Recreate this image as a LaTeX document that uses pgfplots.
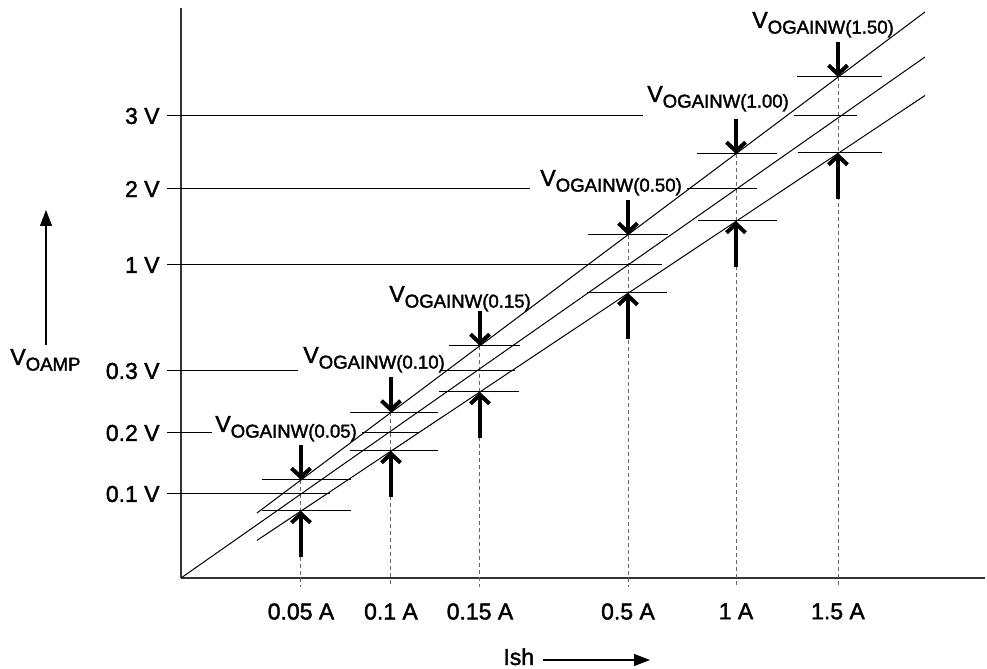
\documentclass[border=0pt]{standalone}
\usepackage{fontspec}
\setmainfont{Liberation Sans}[FakeBold=1.8]
\usepackage{pgfplots}
\pgfplotsset{compat=1.18}
\usetikzlibrary{arrows.meta}
\newcommand{\lbl}[1]{V\raisebox{-2.8pt}{\fontsize{9.3}{10}\selectfont #1}}
\tikzset{
  ln/.style={black, line width=0.5pt},
  dl/.style={black!60, line width=0.5pt, dash pattern=on 2pt off 1.5pt},
  ar/.style={black, line width=2pt, -{Straight Barb[length=4.5pt,width=9.5pt]}},
  lab/.style={anchor=base west, inner sep=0pt, font=\fontsize{11.5}{13}\selectfont},
}
\begin{document}
\begin{tikzpicture}
\begin{axis}[
  x=0.5pt, y=0.5pt, xmin=0, xmax=804, ymin=0, ymax=570,
  axis lines=left, axis line style={-, black!80, line width=0.7pt},
  clip=false, major tick length=0pt,
  xtick={120,210,299,447,555,657},
  xticklabels={0.05 A, 0.1 A, 0.15 A, 0.5 A, 1 A, 1.5 A},
  ytick={84,145,207,313,389,462},
  yticklabels={0.1 V, 0.2 V, 0.3 V, 1 V, 2 V, 3 V},
  tick label style={font=\fontsize{11.5}{13}\selectfont},
  xticklabel style={anchor=north, inner sep=0pt, yshift=-12.5pt},
  yticklabel style={anchor=east, inner sep=0pt, xshift=-10.5pt},
]
% dotted verticals
\addplot[dl] coordinates {(120,98) (120,-9)};
\addplot[dl] coordinates {(210,165.5) (210,-9)};
\addplot[dl] coordinates {(299,232) (299,-9)};
\addplot[dl] coordinates {(447,343) (447,-9)};
\addplot[dl] coordinates {(555,424) (555,-9)};
\addplot[dl] coordinates {(657,501) (657,-9)};
% diagonals
\addplot[ln] coordinates {(0,0) (744,521)};
\addplot[ln] coordinates {(76,65) (744,566)};
\addplot[ln] coordinates {(76,37.6) (744,482.5)};
% grid (middle) lines
\addplot[ln] coordinates {(-14,84) (149,84)};
\addplot[ln] coordinates {(-14,145) (31,145)};
\addplot[ln] coordinates {(181,145) (237,145)};
\addplot[ln] coordinates {(-14,207) (117,207)};
\addplot[ln] coordinates {(259,207) (334,207)};
\addplot[ln] coordinates {(-14,313) (481,313)};
\addplot[ln] coordinates {(-14,389) (349,389)};
\addplot[ln] coordinates {(506,389) (576,389)};
\addplot[ln] coordinates {(-14,462) (462,462)};
\addplot[ln] coordinates {(613,462) (676,462)};
% upper horizontals
\addplot[ln] coordinates {(81,98) (170,98)};
\addplot[ln] coordinates {(169,165.5) (257,165.5)};
\addplot[ln] coordinates {(268,232) (339,232)};
\addplot[ln] coordinates {(407,343) (487,343)};
\addplot[ln] coordinates {(516,424) (596,424)};
\addplot[ln] coordinates {(616,501) (701,501)};
% lower horizontals
\addplot[ln] coordinates {(81,67) (170,67)};
\addplot[ln] coordinates {(169,127) (257,127)};
\addplot[ln] coordinates {(258,186) (338,186)};
\addplot[ln] coordinates {(406,285) (486,285)};
\addplot[ln] coordinates {(517,357) (596,357)};
\addplot[ln] coordinates {(617,425) (701,425)};
% down arrows
\addplot[ar] coordinates {(120,133) (120,98)};
\addplot[ar] coordinates {(210,200.5) (210,165.5)};
\addplot[ar] coordinates {(299,267) (299,232)};
\addplot[ar] coordinates {(447,378) (447,343)};
\addplot[ar] coordinates {(555,459) (555,424)};
\addplot[ar] coordinates {(657,536) (657,501)};
% up arrows
\addplot[ar] coordinates {(120,21) (120,67)};
\addplot[ar] coordinates {(210,81) (210,127)};
\addplot[ar] coordinates {(299,140) (299,186)};
\addplot[ar] coordinates {(447,239) (447,285)};
\addplot[ar] coordinates {(555,311) (555,357)};
\addplot[ar] coordinates {(657,379) (657,425)};
% axis-name arrows
\addplot[black, line width=0.6pt, -{Triangle[length=8pt,width=6pt]}] coordinates {(-135,233) (-135,368)};
\addplot[black, line width=0.6pt, -{Triangle[length=8pt,width=6pt]}] coordinates {(362,-82) (469,-82)};
% labels
\node[lab] at (axis cs:34,146) {\lbl{OGAINW(0.05)}};
\node[lab] at (axis cs:122,215) {\lbl{OGAINW(0.10)}};
\node[lab] at (axis cs:208,276) {\lbl{OGAINW(0.15)}};
\node[lab] at (axis cs:359,392) {\lbl{OGAINW(0.50)}};
\node[lab] at (axis cs:466,476) {\lbl{OGAINW(1.00)}};
\node[lab] at (axis cs:571,550) {\lbl{OGAINW(1.50)}};
\node[lab] at (axis cs:-171,213) {\lbl{OAMP}};
\node[lab] at (axis cs:322,-87) {Ish};
\coordinate (bl) at (axis cs:-181,-91);
\coordinate (tr) at (axis cs:806,578);
\end{axis}
\pgfresetboundingbox
\path[use as bounding box] (bl) rectangle (tr);
\end{tikzpicture}
\end{document}
